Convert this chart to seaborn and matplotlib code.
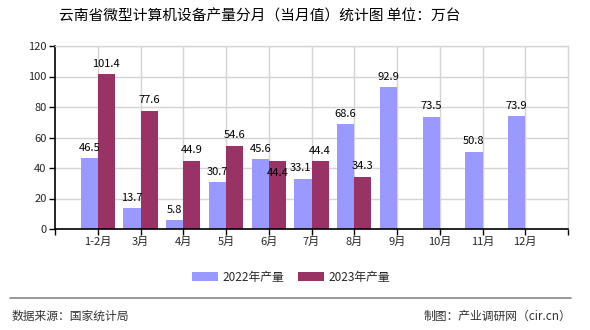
import numpy as np
import pandas as pd
import matplotlib
matplotlib.use("Agg")
import matplotlib.pyplot as plt
import seaborn as sns
from matplotlib.patches import Patch

months = ["1-2月", "3月", "4月", "5月", "6月", "7月", "8月", "9月", "10月", "11月", "12月"]
v2022 = [46.5, 13.7, 5.8, 30.7, 45.6, 33.1, 68.6, 92.9, 73.5, 50.8, 73.9]
v2023 = [101.4, 77.6, 44.9, 54.6, 44.4, 44.4, 34.3, np.nan, np.nan, np.nan, np.nan]
series = ["2022年产量", "2023年产量"]
colors = ["#9999FF", "#993366"]
yticks = [0, 20, 40, 60, 80, 100, 120]
title = "云南省微型计算机设备产量分月（当月值）统计图 单位：万台"
source = "数据来源：国家统计局"
credit = "制图：产业调研网（cir.cn）"

sns.set_theme(style="white")
plt.rcParams["font.family"] = ["Noto Sans CJK SC", "DejaVu Sans"]

df = pd.DataFrame({
    "month": months * 2,
    "value": v2022 + v2023,
    "series": [series[0]] * len(months) + [series[1]] * len(months),
})

fig = plt.figure(figsize=(5.9, 3.3), dpi=100)
ax = fig.add_axes([55 / 590, 1 - 229 / 330, (568 - 55) / 590, (229 - 46) / 330])

sns.barplot(data=df, x="month", y="value", hue="series", order=months,
            hue_order=series, palette=colors, width=0.8, saturation=1,
            ax=ax, legend=False, linewidth=0)

# label offsets in points (dx, dy) for crowded spots
label_offsets = {(1, 4): (0, -12), (0, 5): (-2, 4)}
for si, cont in enumerate(ax.containers):
    for mi, b in enumerate(cont):
        h = b.get_height()
        if np.isnan(h):
            continue
        dx, dy = label_offsets.get((si, mi), (0, 4))
        ax.annotate(f"{h:.1f}", (b.get_x() + b.get_width() / 2, h),
                    xytext=(dx, dy), textcoords="offset points",
                    ha="center", va="bottom", fontsize=8, color="black")

ax.set_xlim(-1, len(months))
ax.set_ylim(0, 120)
ax.set_yticks(yticks)
ax.set_xlabel("")
ax.set_ylabel("")
ax.set_xticks(range(len(months)))
ax.set_xticklabels(months, fontsize=8)
ax.set_xticks([-1, len(months)], minor=True)
ax.tick_params(axis="x", which="both", direction="out", length=4, width=1, color="black", pad=2, bottom=True)
ax.tick_params(axis="y", direction="out", length=4, width=1, color="black", labelsize=8, pad=2, left=True)
ax.grid(True, axis="both", color="#d4d4d4", linewidth=1)
ax.set_axisbelow(True)
for s in ["left", "bottom"]:
    ax.spines[s].set_color("black")
    ax.spines[s].set_linewidth(1.2)
for s in ["top", "right"]:
    ax.spines[s].set_color("#d4d4d4")
    ax.spines[s].set_linewidth(1)

fig.text(260 / 590, 1 - 17 / 330, title, ha="center", va="center", fontsize=10.6, color="black")

handles = [Patch(facecolor=c, edgecolor="none") for c in colors]
fig.legend(handles, series, loc="center", bbox_to_anchor=(291 / 590, 1 - 277 / 330), ncol=2,
           frameon=False, fontsize=8.5, handlelength=2.2, handleheight=0.9,
           columnspacing=1.2, handletextpad=0.4)

fig.add_artist(plt.Line2D([10 / 590, 571 / 590], [1 - 298 / 330] * 2, color="#888888", linewidth=1.2))
fig.text(12 / 590, 1 - 316 / 330, source, ha="left", va="center", fontsize=8.5, color="#333333")
fig.text(571 / 590, 1 - 316 / 330, credit, ha="right", va="center", fontsize=8.5, color="#333333")

fig.savefig("out.png", dpi=100)
